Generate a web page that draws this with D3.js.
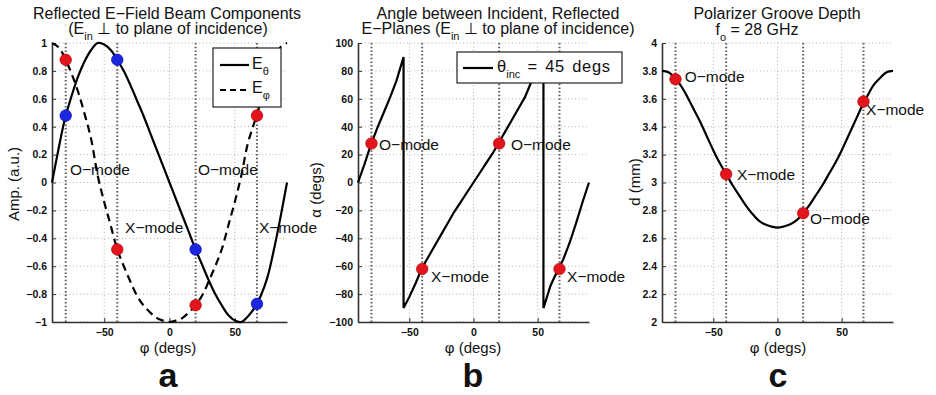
<!DOCTYPE html>
<html>
<head>
<meta charset="utf-8">
<script src="https://cdn.jsdelivr.net/npm/d3@7"></script>
<style>
  body { margin: 0; background: #fff; }
  text { font-family: "Liberation Sans", Arial, Helvetica, sans-serif; fill: #111; }
</style>
</head>
<body>
<div id="chart"></div>
<script>
// ---- data ----
var phi = [-90, -85, -80, -75, -70, -65, -60, -55, -50, -45, -40, -35, -30, -25, -20, -15, -10, -5,
  0, 5, 10, 15, 20, 25, 30, 35, 40, 45, 50, 55, 60, 65, 70, 75, 80, 85, 90];

// panel a: reflected field components
var eTheta = [0, 0.24, 0.46, 0.62, 0.76, 0.87, 0.95, 1.0, 0.99, 0.95, 0.88, 0.8, 0.7, 0.59, 0.48, 0.36, 0.24, 0.12,
  0, -0.12, -0.24, -0.36, -0.48, -0.59, -0.7, -0.8, -0.88, -0.95, -0.99, -1.0, -0.96, -0.9, -0.81, -0.68, -0.48, -0.25, 0];
var ePhi = [1.0, 0.97, 0.89, 0.78, 0.65, 0.49, 0.31, 0.05, -0.14, -0.31, -0.48, -0.6, -0.71, -0.81, -0.88, -0.93, -0.97, -0.99,
  -1.0, -0.99, -0.97, -0.93, -0.88, -0.81, -0.71, -0.6, -0.48, -0.31, -0.14, 0.05, 0.28, 0.43, 0.58, 0.73, 0.88, 0.97, 1.0];

// panel b: angle between planes (wraps at +-90)
var phiB = [-90, -85, -80, -75, -70, -65, -60, -54.5, -54.5, -50, -45, -40, -35, -30, -25, -20, -15, -10, -5,
  0, 5, 10, 15, 20, 25, 30, 35, 40, 45, 50, 54.5, 54.5, 60, 65, 70, 75, 80, 85, 90];
var alpha = [0, 13, 27, 39, 50, 61, 73, 90, -90, -82, -72, -61, -53, -45, -37, -29, -21, -14, -7,
  0, 7, 14, 21, 29, 37, 45, 53, 61, 72, 82, 90, -90, -74, -64, -55, -43, -29, -14, 0];

// panel c: groove depth (mm)
var depth = [3.8, 3.79, 3.75, 3.69, 3.61, 3.52, 3.43, 3.33, 3.23, 3.14, 3.06, 2.98, 2.91, 2.84, 2.78, 2.73, 2.7, 2.685,
  2.677, 2.685, 2.7, 2.73, 2.78, 2.84, 2.91, 2.98, 3.06, 3.14, 3.23, 3.33, 3.43, 3.53, 3.62, 3.7, 3.75, 3.79, 3.8];

// polarizer orientations (O / X modes) and marker values
var modePhi = [-79.5, -40, 20, 67];
var modeName = ["O\u2212mode", "X\u2212mode", "O\u2212mode", "X\u2212mode"];
var thetaMarks = [0.48, 0.88, -0.48, -0.87];
var phiMarks = [0.88, -0.48, -0.88, 0.48];
var alphaMarks = [28, -62, 28, -62];
var depthMarks = [3.74, 3.06, 2.78, 3.58];

var xTicks = [-50, 0, 50];
var ticksA = d3.range(-1, 1.01, 0.2).map(v => +v.toFixed(1));
var ticksB = d3.range(-100, 101, 20);
var ticksC = d3.range(2, 4.01, 0.2).map(v => +v.toFixed(1));

// ---- layout ----
var width = 936, height = 395;
var plotTop = 43, plotBottom = 322;
var RED = "#e3151c", BLUE = "#1c28e0";

var svg = d3.select("#chart").append("svg")
  .attr("width", width)
  .attr("height", height);
svg.append("rect").attr("width", width).attr("height", height).attr("fill", "#fff");

function makePanel(x0, x1, yDomain, yTicks, fmt) {
  var x = d3.scaleLinear().domain([-90, 90]).range([x0, x1]);
  var y = d3.scaleLinear().domain(yDomain).range([plotBottom, plotTop]);
  var g = svg.append("g");

  // light grid
  g.selectAll(null).data(yTicks).join("line")
    .attr("x1", x0).attr("x2", x1)
    .attr("y1", d => y(d)).attr("y2", d => y(d))
    .attr("stroke", "#b5b5b5").attr("stroke-width", 1).attr("stroke-dasharray", "1,2.5");
  g.selectAll(null).data(xTicks).join("line")
    .attr("x1", d => x(d)).attr("x2", d => x(d))
    .attr("y1", plotTop).attr("y2", plotBottom)
    .attr("stroke", "#b5b5b5").attr("stroke-width", 1).attr("stroke-dasharray", "1,2.5");

  // mode lines (heavier dots)
  g.selectAll(null).data(modePhi).join("line")
    .attr("x1", d => x(d)).attr("x2", d => x(d))
    .attr("y1", plotTop).attr("y2", plotBottom)
    .attr("stroke", "#5a5a5a").attr("stroke-width", 2).attr("stroke-dasharray", "1.5,2.2");

  // axes
  var ax = g.append("g").attr("transform", "translate(0," + plotBottom + ")")
    .call(d3.axisBottom(x).tickValues(xTicks).tickSizeInner(-4).tickSizeOuter(0).tickPadding(7));
  var ay = g.append("g").attr("transform", "translate(" + x0 + ",0)")
    .call(d3.axisLeft(y).tickValues(yTicks).tickFormat(fmt).tickSizeInner(-4).tickSizeOuter(0).tickPadding(5));
  [ax, ay].forEach(function (a) {
    a.select(".domain").attr("stroke", "#333").attr("stroke-width", 1.6);
    a.selectAll(".tick line").attr("stroke", "#333");
    a.selectAll(".tick text").attr("font-size", 10.5).attr("font-weight", "bold")
      .attr("fill", "#222").style("font-family", "'Liberation Sans', Arial, sans-serif");
  });
  return { x: x, y: y, g: g };
}

var fmtNum = d => d3.format("~g")(d);

var pa = makePanel(52, 287, [-1, 1], ticksA, fmtNum);
var pb = makePanel(358, 589, [-100, 100], ticksB, fmtNum);
var pc = makePanel(662, 893, [2, 4], ticksC, fmtNum);

function curve(p, xs, ys, dash, kind) {
  var line = d3.line().x(d => p.x(d[0])).y(d => p.y(d[1])).curve(kind || d3.curveCatmullRom);
  p.g.append("path")
    .attr("d", line(d3.zip(xs, ys)))
    .attr("fill", "none").attr("stroke", "#000").attr("stroke-width", 2.2)
    .attr("stroke-dasharray", dash || null);
}

function markers(p, vals, color) {
  p.g.selectAll(null).data(d3.zip(modePhi, vals)).join("circle")
    .attr("cx", d => p.x(d[0])).attr("cy", d => p.y(d[1]))
    .attr("r", 5.8).attr("fill", color).attr("stroke", color === RED ? "#a00" : "#00a").attr("stroke-width", 0.6);
}

function label(p, str, px, py) {
  p.g.append("text").attr("x", p.x(px)).attr("y", p.y(py))
    .attr("font-size", 15.5).text(str);
}

// ---- panel a ----
curve(pa, phi, eTheta);
curve(pa, phi, ePhi, "8,5");
markers(pa, thetaMarks, BLUE);
markers(pa, phiMarks, RED);
label(pa, modeName[0], -76.2, 0.054);
label(pa, modeName[1], -34, -0.36);
label(pa, modeName[2], 21.8, 0.054);
label(pa, modeName[3], 68.5, -0.36);

// legend a
var lga = pa.g.append("g");
lga.append("rect").attr("x", 213).attr("y", 48).attr("width", 68).attr("height", 59)
  .attr("fill", "#fff").attr("stroke", "#222").attr("stroke-width", 1.2);
lga.append("line").attr("x1", 220).attr("x2", 249).attr("y1", 65).attr("y2", 65)
  .attr("stroke", "#000").attr("stroke-width", 2.2);
lga.append("line").attr("x1", 220).attr("x2", 249).attr("y1", 90).attr("y2", 90)
  .attr("stroke", "#000").attr("stroke-width", 2.2).attr("stroke-dasharray", "6,4");
var t1 = lga.append("text").attr("x", 252).attr("y", 69).attr("font-size", 16);
t1.append("tspan").text("E");
t1.append("tspan").attr("dy", 6).attr("font-size", 11).text("\u03b8");
var t2 = lga.append("text").attr("x", 252).attr("y", 93).attr("font-size", 16);
t2.append("tspan").text("E");
t2.append("tspan").attr("dy", 6).attr("font-size", 11).text("\u03c6");

// ---- panel b ----
curve(pb, phiB, alpha, null, d3.curveLinear);
markers(pb, alphaMarks, RED);
label(pb, modeName[0], -73.6, 23.3);
label(pb, modeName[1], -33.1, -71.3);
label(pb, modeName[2], 29.2, 23.3);
label(pb, modeName[3], 72.9, -71.3);

var lgb = pb.g.append("g");
lgb.append("rect").attr("x", 457).attr("y", 52).attr("width", 165).attr("height", 31)
  .attr("fill", "#fff").attr("stroke", "#222").attr("stroke-width", 1.2);
lgb.append("line").attr("x1", 463).attr("x2", 493).attr("y1", 68).attr("y2", 68)
  .attr("stroke", "#000").attr("stroke-width", 2.2);
var tb = lgb.append("text").attr("x", 497).attr("y", 72).attr("font-size", 16.5);
tb.append("tspan").text("\u03b8");
tb.append("tspan").attr("dy", 6).attr("font-size", 11).text("inc");
tb.append("tspan").attr("dy", -6).attr("letter-spacing", 0.7).attr("word-spacing", 2).text(" = 45 degs");

// ---- panel c ----
curve(pc, phi, depth);
markers(pc, depthMarks, RED);
label(pc, modeName[0], -72.3, 3.72);
label(pc, modeName[1], -31.6, 3.018);
label(pc, modeName[2], 25.3, 2.703);
label(pc, modeName[3], 69, 3.484);

// ---- titles ----
function title(cx, y, parts) {
  var t = svg.append("text").attr("x", cx).attr("y", y).attr("font-size", 16).attr("text-anchor", "middle");
  parts.forEach(function (p) {
    var s = t.append("tspan").text(p.t);
    if (p.sub) s.attr("font-size", 11).attr("dy", 6);
    if (p.back) s.attr("dy", -6);
  });
}
title(167, 19, [{ t: "Reflected E\u2212Field Beam Components" }]);
title(168, 34, [{ t: "(E" }, { t: "in", sub: true }, { t: " \u22a5 to plane of incidence)", back: true }]);
title(498, 19, [{ t: "Angle between Incident, Reflected" }]);
title(498, 34, [{ t: "E\u2212Planes (E" }, { t: "in", sub: true }, { t: " \u22a5 to plane of incidence)", back: true }]);
title(777, 19, [{ t: "Polarizer Groove Depth" }]);
title(757, 35, [{ t: "f" }, { t: "o", sub: true }, { t: " = 28 GHz", back: true }]);

// ---- axis labels ----
var xLab = [[168, "\u03c6 (degs)"], [473, "\u03c6 (degs)"], [778, "\u03c6 (degs)"]];
xLab.forEach(function (d) {
  svg.append("text").attr("x", d[0]).attr("y", 353).attr("text-anchor", "middle")
    .attr("font-size", 15).text(d[1]);
});
var yLab = [[19, 184, "Amp. (a.u.)"], [321, 190, "\u03b1 (degs)"], [640, 182, "d (mm)"]];
yLab.forEach(function (d) {
  svg.append("text").attr("transform", "translate(" + d[0] + "," + d[1] + ") rotate(-90)")
    .attr("text-anchor", "middle").attr("font-size", 15).text(d[2]);
});

// panel letters
[[168, "a"], [473, "b"], [778, "c"]].forEach(function (d) {
  svg.append("text").attr("x", d[0]).attr("y", 387).attr("text-anchor", "middle")
    .attr("font-size", 34).attr("font-weight", "bold").text(d[1]);
});
</script>
</body>
</html>
